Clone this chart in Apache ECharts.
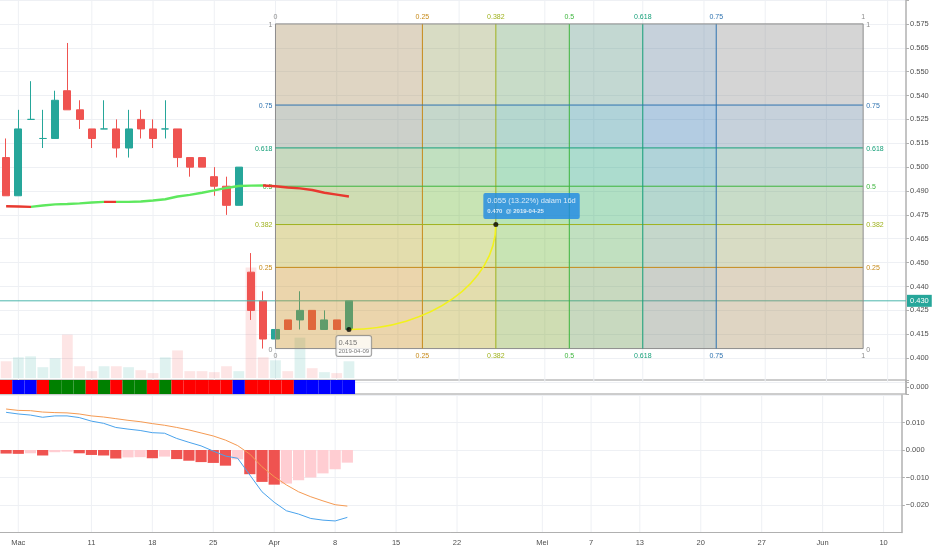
<!DOCTYPE html>
<html>
<head>
<meta charset="utf-8">
<title>Fib box chart</title>
<script src="https://cdn.jsdelivr.net/npm/echarts@6/dist/echarts.min.js"></script>
<style>
  html, body { margin: 0; padding: 0; background: #fff; }
  #chart { width: 932px; height: 550px; }
</style>
</head>
<body>
<div id="chart"></div>
<script>
// trading days; the last real bar is 2019-04-09, the rest is the empty future space
const dates = [
  '2019-02-28', '2019-03-01', '2019-03-04', '2019-03-05', '2019-03-06', '2019-03-07', '2019-03-08',
  '2019-03-11', '2019-03-12', '2019-03-13', '2019-03-14', '2019-03-15',
  '2019-03-18', '2019-03-19', '2019-03-20', '2019-03-21', '2019-03-22',
  '2019-03-25', '2019-03-26', '2019-03-27', '2019-03-28', '2019-03-29',
  '2019-04-01', '2019-04-02', '2019-04-03', '2019-04-04', '2019-04-05',
  '2019-04-08', '2019-04-09', '2019-04-10', '2019-04-11', '2019-04-12',
  '2019-04-15', '2019-04-16', '2019-04-17', '2019-04-18', '2019-04-19',
  '2019-04-22', '2019-04-23', '2019-04-24', '2019-04-25', '2019-04-26',
  '2019-04-29', '2019-04-30', '2019-05-01', '2019-05-02', '2019-05-03',
  '2019-05-06', '2019-05-07', '2019-05-08', '2019-05-09', '2019-05-10',
  '2019-05-13', '2019-05-14', '2019-05-15', '2019-05-16', '2019-05-17',
  '2019-05-20', '2019-05-21', '2019-05-22', '2019-05-23', '2019-05-24',
  '2019-05-27', '2019-05-28', '2019-05-29', '2019-05-30', '2019-05-31',
  '2019-06-03', '2019-06-04', '2019-06-05', '2019-06-06', '2019-06-07',
  '2019-06-10', '2019-06-11'
]

// [open, close, low, high]
const ohlc = [
  [0.505, 0.485, 0.485, 0.515], [0.485, 0.520, 0.485, 0.530], [0.525, 0.525, 0.525, 0.545],
  [0.515, 0.515, 0.510, 0.530], [0.515, 0.535, 0.515, 0.540], [0.540, 0.530, 0.530, 0.565],
  [0.530, 0.525, 0.520, 0.535], [0.520, 0.515, 0.510, 0.520], [0.520, 0.520, 0.520, 0.535],
  [0.520, 0.510, 0.505, 0.525], [0.510, 0.520, 0.505, 0.530], [0.525, 0.520, 0.515, 0.530],
  [0.520, 0.515, 0.510, 0.525], [0.520, 0.520, 0.515, 0.535], [0.520, 0.505, 0.500, 0.520],
  [0.505, 0.500, 0.495, 0.505], [0.505, 0.500, 0.500, 0.505], [0.495, 0.490, 0.485, 0.500],
  [0.490, 0.480, 0.475, 0.495], [0.480, 0.500, 0.480, 0.500], [0.445, 0.425, 0.420, 0.455],
  [0.430, 0.410, 0.405, 0.435], [0.410, 0.415, 0.410, 0.415], [0.420, 0.415, 0.415, 0.420],
  [0.420, 0.425, 0.415, 0.435], [0.425, 0.415, 0.415, 0.425], [0.415, 0.420, 0.415, 0.425],
  [0.420, 0.415, 0.415, 0.420], [0.415, 0.430, 0.415, 0.430]
]
const volume = [1.7, 2.1, 2.2, 1.1, 2.0, 4.4, 1.2, 0.7, 1.2, 1.2, 1.1, 0.8, 0.5, 2.1, 2.8,
  0.7, 0.7, 0.6, 1.2, 0.7, 11.2, 2.1, 1.8, 0.7, 4.1, 1.0, 0.6, 0.5, 1.7]

const ma = [0.4795, 0.4794, 0.4792, 0.4799, 0.4805, 0.4807, 0.4810, 0.4815, 0.4818, 0.4818,
  0.4818, 0.4820, 0.4825, 0.4832, 0.4846, 0.4855, 0.4866, 0.4878, 0.4891, 0.4901,
  0.4903, 0.4904, 0.4900, 0.4893, 0.4889, 0.4880, 0.4866, 0.4856, 0.4846]
const maTurns = [2, 8, 9, 21] // slots where the MA colour flips, it starts red

// r = red, g = green, b = blue
const trend = ['r', 'b', 'b', 'r', 'g', 'g', 'g', 'r', 'g', 'r', 'g', 'g', 'r', 'g', 'r',
  'r', 'r', 'r', 'r', 'b', 'r', 'r', 'r', 'r', 'b', 'b', 'b', 'b', 'b']

const macd = [0.0137, 0.0131, 0.0127, 0.0119, 0.0124, 0.0124, 0.0118, 0.0105, 0.0097, 0.0082,
  0.0076, 0.0071, 0.0063, 0.0061, 0.0042, 0.0028, 0.0015, -0.0004, -0.0022, -0.0030,
  -0.0091, -0.0152, -0.0190, -0.0221, -0.0233, -0.0249, -0.0255, -0.0258, -0.0245]
const signal = [0.0149, 0.0144, 0.0143, 0.0138, 0.0136, 0.0135, 0.0131, 0.0124, 0.0120, 0.0114,
  0.0108, 0.0103, 0.0096, 0.0090, 0.0082, 0.0073, 0.0062, 0.0051, 0.0036, 0.0016,
  -0.0015, -0.0061, -0.0097, -0.0127, -0.0152, -0.0170, -0.0185, -0.0199, -0.0204]
const hist = [-0.0013, -0.0014, -0.0012, -0.0020, -0.0008, -0.0006, -0.0012, -0.0018, -0.0020, -0.0031,
  -0.0027, -0.0026, -0.0030, -0.0024, -0.0033, -0.0039, -0.0044, -0.0047, -0.0057, -0.0034,
  -0.0088, -0.0116, -0.0126, -0.0122, -0.0110, -0.0100, -0.0085, -0.0070, -0.0046]

const xTickIdx = [1, 7, 12, 17, 22, 27, 32, 37, 44, 48, 52, 57, 62, 67, 72]
const xTickText = ['Mac', '11', '18', '25', 'Apr', '8', '15', '22', 'Mei', '7', '13', '20', '27', 'Jun', '10']
const priceTicks = ['0.400', '0.415', '0.425', '0.440', '0.450', '0.465', '0.475', '0.490',
  '0.500', '0.515', '0.525', '0.540', '0.550', '0.565', '0.575']
const priceTickFrom = 0.4
const priceStep = 0.0125

const fibLevels = [0, 0.25, 0.382, 0.5, 0.618, 0.75, 1]
const fibColors = ['#8c8c8c', '#c68a1a', '#9fb21e', '#3db53d', '#17a07a', '#2f73b0', '#8c8c8c']
const fibTime = [22, 70]
const fibPrice = [0.405, 0.575]

const curve = [28, 0.415, 40, 0.470] // from bar, price -> to bar, price
const curveText = '0.055 (13.22%) dalam 16d'

const UP = '#26a69a'
const DOWN = '#ef5350'
const MA_UP = '#5ee85e'
const MA_DN = '#e8392f'
const FONT = 'Liberation Sans, Arial, sans-serif'
const TXT = '#4f4f4f'
const GRIDC = '#eef0f4'
const AXISC = '#b0b0b0'
const LAST_LINE = '#4db6ac'

// fib box: time levels snap to whole bars, like TradingView does
const fibSpan = fibTime[1] - fibTime[0]
const fibT = fibLevels.map(L => fibTime[0] + Math.round(L * fibSpan))
const fibP = fibLevels.map(L => fibPrice[0] + L * (fibPrice[1] - fibPrice[0]))
const fibData = fibLevels.map((L, i) => [fibT[i], fibP[i], i])

const lastClose = ohlc[ohlc.length - 1][1]
const candleData = ohlc.map(d => d[0] === d[1]
  ? { value: d, itemStyle: { color: UP, color0: UP, borderColor: UP, borderColor0: UP } }
  : d)
const volData = volume.map((v, i) => ({
  value: v,
  itemStyle: { color: ohlc[i][1] >= ohlc[i][0] ? 'rgba(38,166,154,0.15)' : 'rgba(239,83,80,0.15)' }
}))
const trendColor = { r: '#ff0000', g: '#008000', b: '#0000ff' }
const stripData = trend.map(t => ({ value: 1, itemStyle: { color: trendColor[t] } }))
const histData = hist.map((v, i) => ({
  value: v,
  itemStyle: { color: i === 0 || v < hist[i - 1] ? '#ef5350' : '#ffcdd2' }
}))

const maPieces = [null].concat(maTurns).map((from, k, arr) => {
  const p = { color: k % 2 ? MA_UP : MA_DN }
  if (k > 0) p.gte = from
  if (k < arr.length - 1) p.lt = arr[k + 1]
  return p
})

const showTick = (index) => xTickIdx.indexOf(index) >= 0

function priceLabel (v) {
  const k = Math.round((v - priceTickFrom) / priceStep)
  return priceTicks[k] || ''
}

// vertical grid lines at the time labels, across the whole pane
function vLine (params, api) {
  const x = api.coord([api.value(0), api.value(1)])[0]
  const cs = params.coordSys
  return { type: 'line', shape: { x1: x, y1: cs.y, x2: x, y2: cs.y + cs.height }, style: { stroke: GRIDC, lineWidth: 1 } }
}

// last price line, across the pane, with its tag on the price scale
function lastLine (params, api) {
  const y = api.coord([api.value(0), api.value(1)])[1]
  const cs = params.coordSys
  return {
    type: 'group',
    children: [
      { type: 'line', shape: { x1: cs.x, y1: y, x2: cs.x + cs.width, y2: y }, style: { stroke: LAST_LINE, lineWidth: 1 } },
      {
        type: 'text',
        x: cs.x + cs.width + 1,
        y: y,
        style: {
          text: api.value(1).toFixed(3),
          fill: '#fff',
          font: '7.5px ' + FONT,
          align: 'left',
          verticalAlign: 'middle',
          backgroundColor: UP,
          padding: [2, 3, 2, 3]
        }
      }
    ]
  }
}

function fibFill (params, api) {
  const i = api.value(2)
  if (i === 0) return
  const a = api.coord([fibT[i - 1], fibP[i - 1]])
  const b = api.coord([fibT[i], fibP[i]])
  const lo = api.coord([fibTime[0], fibPrice[0]])
  const hi = api.coord([fibTime[1], fibPrice[1]])
  const fill = echarts.color.modifyAlpha(fibColors[i], 0.2)
  return {
    type: 'group',
    children: [
      { type: 'rect', shape: { x: a[0], y: hi[1], width: b[0] - a[0], height: lo[1] - hi[1] }, style: { fill } },
      { type: 'rect', shape: { x: lo[0], y: b[1], width: hi[0] - lo[0], height: a[1] - b[1] }, style: { fill } }
    ]
  }
}

function fibLines (params, api) {
  const i = api.value(2)
  const p = api.coord([fibT[i], fibP[i]])
  const lo = api.coord([fibTime[0], fibPrice[0]])
  const hi = api.coord([fibTime[1], fibPrice[1]])
  const c = fibColors[i]
  const txt = String(fibLevels[i])
  const font = '7px ' + FONT
  return {
    type: 'group',
    children: [
      { type: 'line', shape: { x1: p[0], y1: hi[1], x2: p[0], y2: lo[1] }, style: { stroke: c, lineWidth: 1 } },
      { type: 'line', shape: { x1: lo[0], y1: p[1], x2: hi[0], y2: p[1] }, style: { stroke: c, lineWidth: 1 } },
      { type: 'text', x: p[0], y: hi[1] - 3, style: { text: txt, fill: c, font, align: 'center', verticalAlign: 'bottom' } },
      { type: 'text', x: p[0], y: lo[1] + 4, style: { text: txt, fill: c, font, align: 'center', verticalAlign: 'top' } },
      { type: 'text', x: lo[0] - 3, y: p[1] + 1, style: { text: txt, fill: c, font, align: 'right', verticalAlign: 'middle' } },
      { type: 'text', x: hi[0] + 3, y: p[1] + 1, style: { text: txt, fill: c, font, align: 'left', verticalAlign: 'middle' } }
    ]
  }
}

function curveItem (params, api) {
  const a = api.coord([api.value(0), api.value(1)])
  const b = api.coord([api.value(2), api.value(3)])
  const k = 0.5523 // bezier handle of a quarter ellipse
  return {
    type: 'bezierCurve',
    shape: {
      x1: a[0], y1: a[1], x2: b[0], y2: b[1],
      cpx1: a[0] + k * (b[0] - a[0]), cpy1: a[1],
      cpx2: b[0], cpy2: b[1] + k * (a[1] - b[1])
    },
    style: { stroke: '#f2f21c', lineWidth: 1.6, fill: null }
  }
}

const chart = echarts.init(document.getElementById('chart'))

const priceAxisBase = {
  type: 'value',
  position: 'right',
  axisLine: { show: true, onZero: false, lineStyle: { color: AXISC, width: 1.5 } },
  axisTick: { show: true, length: 3, lineStyle: { color: AXISC } },
  axisLabel: { fontSize: 7.5, color: TXT, margin: 4 }
}

const option = {
  animation: false,
  backgroundColor: '#fff',
  textStyle: { fontFamily: FONT },
  visualMap: [{ type: 'piecewise', show: false, seriesIndex: 4, dimension: 0, pieces: maPieces }],
  grid: [
    { left: -4, right: 26, top: -5.2, height: 387.2 },
    { left: -4, right: 26, top: 380, height: 14, show: true, borderColor: '#9a9a9a', borderWidth: 1 },
    { left: -4, right: 26, top: 395, height: 137.5 }
  ],
  xAxis: [
    { type: 'category', gridIndex: 0, data: dates, boundaryGap: true, show: false },
    { type: 'value', gridIndex: 0, min: -0.5, max: dates.length - 0.5, show: false },
    { type: 'category', gridIndex: 1, data: dates, show: false },
    {
      type: 'category',
      gridIndex: 2,
      data: dates,
      axisLine: { onZero: false, lineStyle: { color: AXISC } },
      axisTick: { alignWithLabel: true, interval: showTick, length: 3, lineStyle: { color: AXISC } },
      axisLabel: {
        interval: showTick,
        formatter: (v, i) => xTickText[xTickIdx.indexOf(i)] || '',
        fontSize: 7.5,
        color: TXT,
        margin: 6
      },
      splitLine: { show: false }
    }
  ],
  yAxis: [
    Object.assign({}, priceAxisBase, {
      gridIndex: 0,
      min: 0.3875,
      max: 0.5875,
      interval: priceStep,
      axisLabel: Object.assign({}, priceAxisBase.axisLabel, { formatter: priceLabel }),
      splitLine: { lineStyle: { color: GRIDC } }
    }),
    { type: 'value', gridIndex: 0, position: 'left', min: -0.4, max: 38.32, show: false, splitLine: { show: false } },
    Object.assign({}, priceAxisBase, {
      gridIndex: 1,
      min: 0,
      max: 1,
      interval: 0.5,
      axisLabel: Object.assign({}, priceAxisBase.axisLabel, { formatter: v => v === 0.5 ? '0.000' : '' }),
      splitLine: { show: false }
    }),
    Object.assign({}, priceAxisBase, {
      gridIndex: 2,
      min: -0.03,
      max: 0.02,
      interval: 0.01,
      axisLabel: Object.assign({}, priceAxisBase.axisLabel, {
        showMinLabel: false,
        showMaxLabel: false,
        formatter: v => Math.abs(v) < 1e-9 ? '0.000' : v.toFixed(3).replace('-', '\u2212')
      }),
      splitLine: { lineStyle: { color: GRIDC } }
    })
  ],
  series: [
    {
      name: 'Volume',
      type: 'bar',
      xAxisIndex: 0,
      yAxisIndex: 1,
      data: volData,
      barCategoryGap: '12%',
      silent: true,
      z: 1
    },
    {
      name: 'Candles',
      type: 'candlestick',
      xAxisIndex: 0,
      yAxisIndex: 0,
      data: candleData,
      barWidth: '62%',
      silent: true,
      z: 2,
      itemStyle: { color: UP, color0: DOWN, borderColor: UP, borderColor0: DOWN, borderColorDoji: UP, borderWidth: 1 }
    },
    {
      name: 'Fib fill',
      type: 'custom',
      xAxisIndex: 1,
      yAxisIndex: 0,
      data: fibData,
      encode: { x: 0, y: 1 },
      renderItem: fibFill,
      silent: true,
      z: 3
    },
    {
      name: 'Fib lines',
      type: 'custom',
      xAxisIndex: 1,
      yAxisIndex: 0,
      data: fibData,
      encode: { x: 0, y: 1 },
      renderItem: fibLines,
      silent: true,
      z: 3.5
    },
    {
      name: 'MA',
      type: 'line',
      xAxisIndex: 0,
      yAxisIndex: 0,
      data: ma,
      showSymbol: false,
      lineStyle: { width: 2.4 },
      silent: true,
      z: 4
    },
    {
      name: 'Curve',
      type: 'custom',
      xAxisIndex: 1,
      yAxisIndex: 0,
      data: [curve],
      encode: { x: [0, 2], y: [1, 3] },
      renderItem: curveItem,
      silent: true,
      z: 5
    },
    {
      name: 'Curve ends',
      type: 'scatter',
      xAxisIndex: 1,
      yAxisIndex: 0,
      symbolSize: 5,
      itemStyle: { color: '#000' },
      silent: true,
      z: 6,
      data: [
        {
          value: [curve[0], curve[1]],
          label: {
            show: true,
            position: [-10, 9],
            formatter: '{a|' + curve[1].toFixed(3) + '}\n{b|' + dates[curve[0]] + '}',
            backgroundColor: '#fff',
            borderColor: '#888',
            borderWidth: 1,
            borderRadius: 2,
            padding: [2, 2, 1, 2],
            rich: {
              a: { fontSize: 7.5, color: '#555', lineHeight: 9 },
              b: { fontSize: 6, color: '#555', lineHeight: 8 }
            }
          }
        },
        {
          value: [curve[2], curve[3]],
          label: {
            show: true,
            position: [-10, -29],
            formatter: '{a|' + curveText + '}\n{b|' + curve[3].toFixed(3) + '  @ ' + dates[curve[2]] + '}',
            backgroundColor: '#1e88e5',
            borderRadius: 2,
            padding: [3, 4, 3, 4],
            rich: {
              a: { fontSize: 7.5, color: '#fff', lineHeight: 11 },
              b: { fontSize: 6, color: '#fff', fontWeight: 'bold', lineHeight: 9 }
            }
          }
        }
      ]
    },
    {
      name: 'Trend',
      type: 'bar',
      xAxisIndex: 2,
      yAxisIndex: 2,
      data: stripData,
      barCategoryGap: 0,
      silent: true
    },
    {
      name: 'Histogram',
      type: 'bar',
      xAxisIndex: 3,
      yAxisIndex: 3,
      data: histData,
      barCategoryGap: '8%',
      silent: true,
      z: 1
    },
    {
      name: 'MACD',
      type: 'line',
      xAxisIndex: 3,
      yAxisIndex: 3,
      data: macd,
      showSymbol: false,
      lineStyle: { color: '#4aa3ec', width: 1 },
      silent: true,
      z: 3
    },
    {
      name: 'Signal',
      type: 'line',
      xAxisIndex: 3,
      yAxisIndex: 3,
      data: signal,
      showSymbol: false,
      lineStyle: { color: '#f59a52', width: 1 },
      silent: true,
      z: 3
    },
    {
      name: 'Main grid x',
      type: 'custom',
      xAxisIndex: 1,
      yAxisIndex: 0,
      data: xTickIdx.map(i => [i, 0.5]),
      encode: { x: 0, y: 1 },
      renderItem: vLine,
      silent: true,
      z: 0
    },
    {
      name: 'MACD grid x',
      type: 'custom',
      xAxisIndex: 3,
      yAxisIndex: 3,
      data: xTickIdx.map(i => [i, 0]),
      encode: { x: 0, y: 1 },
      renderItem: vLine,
      silent: true,
      z: 0
    },
    {
      name: 'Last price',
      type: 'custom',
      xAxisIndex: 1,
      yAxisIndex: 0,
      data: [[ohlc.length - 1, lastClose]],
      encode: { x: 0, y: 1 },
      renderItem: lastLine,
      clip: false,
      silent: true,
      z: 2.5
    }
  ]
}

chart.setOption(option)
</script>
</body>
</html>
